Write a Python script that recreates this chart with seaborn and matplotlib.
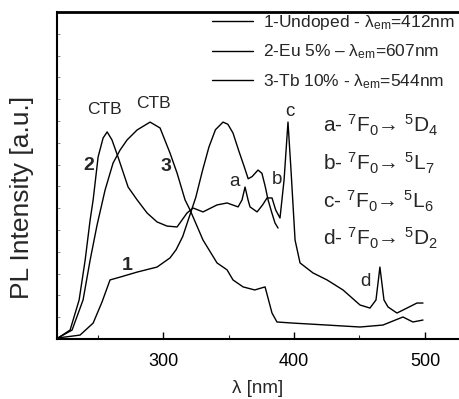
import matplotlib
matplotlib.use("Agg")
import matplotlib.pyplot as plt
import seaborn as sns
import pandas as pd
import numpy as np
from matplotlib.ticker import MultipleLocator, NullFormatter

# ---- data ----
wl_undoped = [219.8, 229.0, 236.6, 246.6, 253.4, 259.5, 267.2, 280.2, 295.4, 305.3, 310.0, 315.0,
              320.0, 325.0, 330.0, 335.0, 340.0, 345.8, 349.5, 353.4, 358.0, 362.0, 365.0, 368.0,
              372.5, 375.5, 378.0, 380.2, 383.0, 385.5, 387.8]
int_undoped = [0.05, 0.12, 0.18, 0.73, 1.70, 2.71, 2.84, 3.07, 3.30, 3.72, 4.10, 4.70,
               5.60, 6.50, 7.70, 8.80, 9.60, 9.95, 9.85, 9.45, 8.60, 7.90, 7.35, 7.45,
               7.75, 7.60, 7.00, 6.38, 5.80, 5.32, 5.09]

wl_eu = [219.8, 229.0, 235.9, 240.5, 244.3, 246.6, 250.4, 254.2, 257.3, 261.0, 265.6, 273.3,
         280.2, 287.8, 295.4, 303.0, 310.7, 318.3, 322.9, 330.5, 341.2, 348.9, 357.3, 360.3,
         362.6, 364.9, 366.4, 371.8, 376.0, 379.4, 383.2, 386.0, 389.3, 392.4, 395.4, 397.7,
         400.8, 404.6, 414.5, 425.2, 437.4, 450.4, 458.0, 462.6, 465.6, 468.7, 471.8, 478.6,
         486.3, 493.9, 498.5]
int_eu = [0.05, 0.41, 1.79, 3.62, 5.46, 6.38, 8.35, 9.22, 9.50, 9.13, 8.35, 6.97,
          6.38, 5.78, 5.37, 5.18, 5.14, 5.78, 6.01, 5.83, 6.15, 6.24, 6.06, 6.38,
          6.97, 6.38, 6.06, 5.83, 6.15, 6.47, 6.47, 5.92, 5.55, 7.29, 9.95, 7.75,
          4.54, 3.49, 3.03, 2.71, 2.25, 1.56, 1.42, 1.79, 3.30, 1.79, 1.47, 1.19,
          1.42, 1.65, 1.65]

wl_tb = [219.8, 230.5, 238.9, 244.3, 249.6, 255.7, 261.8, 267.2, 272.5, 280.2, 290.1, 297.7,
         305.3, 310.7, 316.8, 320.6, 330.5, 341.2, 348.9, 353.4, 361.1, 370.0, 377.9, 383.2,
         387.0, 399.2, 425.2, 450.4, 467.9, 483.2, 490.8, 498.5]
int_tb = [0.05, 0.41, 1.79, 3.62, 5.23, 6.83, 8.07, 8.67, 9.13, 9.59, 9.95, 9.68,
          8.53, 7.61, 6.38, 5.92, 4.54, 3.49, 3.17, 2.71, 2.39, 2.25, 2.39, 1.19,
          0.78, 0.73, 0.64, 0.55, 0.64, 1.01, 0.78, 0.87]

series_labels = [r"1-Undoped - λ$_{\rm em}$=412nm",
                 r"2-Eu 5% – λ$_{\rm em}$=607nm",
                 r"3-Tb 10% - λ$_{\rm em}$=544nm"]

x_ticks = [300, 400, 500]
x_label = "λ [nm]"
y_label = "PL Intensity [a.u.]"

transitions = [r"a- $^{7}$F$_{0}$→ $^{5}$D$_{4}$",
               r"b- $^{7}$F$_{0}$→ $^{5}$L$_{7}$",
               r"c- $^{7}$F$_{0}$→ $^{5}$L$_{6}$",
               r"d- $^{7}$F$_{0}$→ $^{5}$D$_{2}$"]

# ---- style ----
sns.set_theme(style="ticks")
plt.rcParams["font.family"] = ["Liberation Sans", "DejaVu Sans"]
plt.rcParams["mathtext.fontset"] = "custom"
plt.rcParams["mathtext.rm"] = "Liberation Sans"
plt.rcParams["mathtext.it"] = "Liberation Sans:italic"
plt.rcParams["mathtext.bf"] = "Liberation Sans:bold"

fig = plt.figure(figsize=(4.59, 3.99), dpi=100)
W, H = 459, 399
ax = fig.add_axes([57 / W, 60 / H, 402 / W, 327 / H])

dfs = [pd.DataFrame({"wl": wl_undoped, "I": int_undoped}),
       pd.DataFrame({"wl": wl_eu, "I": int_eu}),
       pd.DataFrame({"wl": wl_tb, "I": int_tb})]
for df, lab in zip(dfs, series_labels):
    sns.lineplot(data=df, x="wl", y="I", ax=ax, color="black", lw=1.0,
                 label=lab, sort=False, estimator=None)

ax.set_xlim(219, 526)
ax.set_ylim(0, 15)
ax.set_xticks(x_ticks)
ax.xaxis.set_minor_locator(MultipleLocator(50))
ax.yaxis.set_major_locator(MultipleLocator(1))
ax.yaxis.set_major_formatter(NullFormatter())
ax.tick_params(axis="x", which="major", direction="in", length=5, width=1.0,
               labelsize=13, pad=10, colors="black")
ax.tick_params(axis="x", which="minor", direction="in", length=3, width=0.8)
ax.tick_params(axis="y", which="major", direction="in", length=2.5, width=0.6,
               color="#777777")
for s in ["left", "bottom"]:
    ax.spines[s].set_linewidth(1.5)
    ax.spines[s].set_color("black")
ax.spines["top"].set_linewidth(2.0)
ax.spines["top"].set_color("black")
ax.spines["right"].set_visible(False)

ax.set_xlabel(x_label, fontsize=13.5, labelpad=7)
ax.set_ylabel(y_label, fontsize=19)
ax.yaxis.set_label_coords(-0.058, 0.434)

leg = ax.legend(loc="upper left", bbox_to_anchor=(212 / W, 1 - 13 / H),
                bbox_transform=fig.transFigure, frameon=False, fontsize=12.5,
                handlelength=2.36, handletextpad=0.55, labelspacing=0.62,
                borderpad=0, borderaxespad=0)
for h in leg.get_lines():
    h.set_linewidth(1.0)

def afx(px):
    return (px - 57) / 402

def afy(py):
    return (339 - py) / 327

tr = ax.transAxes
ax.text(afx(104), afy(110), "CTB", transform=tr, fontsize=12.5, ha="center", va="center")
ax.text(afx(153), afy(103), "CTB", transform=tr, fontsize=12.5, ha="center", va="center")
ax.text(afx(88.5), afy(166), "2", transform=tr, fontsize=14, fontweight="bold", ha="center", va="center")
ax.text(afx(166), afy(166.5), "3", transform=tr, fontsize=14, fontweight="bold", ha="center", va="center")
ax.text(afx(127.5), afy(265), "1", transform=tr, fontsize=14, fontweight="bold", ha="center", va="center")
ax.text(afx(235), afy(181), "a", transform=tr, fontsize=13.5, ha="center", va="center")
ax.text(afx(277), afy(180), "b", transform=tr, fontsize=13.5, ha="center", va="center")
ax.text(afx(290), afy(112), "c", transform=tr, fontsize=13.5, ha="center", va="center")
ax.text(afx(365), afy(281), "d", transform=tr, fontsize=13.5, ha="center", va="center")

for t, base in zip(transitions, [133, 170.5, 208, 245.5]):
    ax.text(afx(323), afy(base), t, transform=tr, fontsize=15, ha="left", va="baseline")

fig.savefig("out.png", dpi=100)
